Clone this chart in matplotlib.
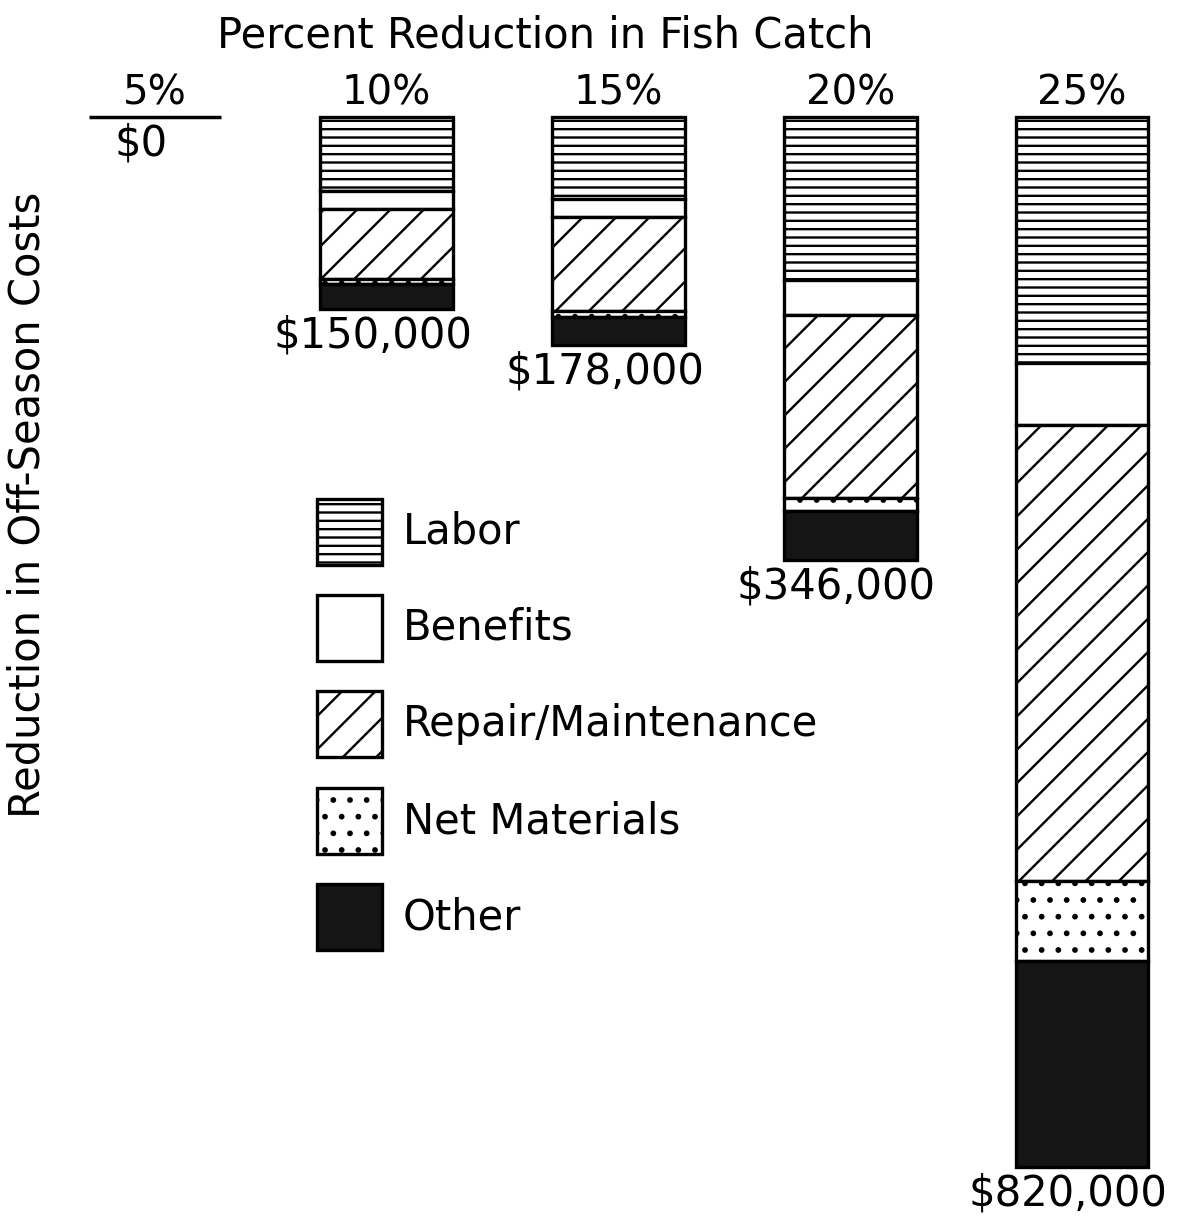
import matplotlib
matplotlib.use("Agg")
import matplotlib.pyplot as plt
from matplotlib.patches import Rectangle

# data (thousands of dollars)
catch_cuts = ["5%", "10%", "15%", "20%", "25%"]
totals = ["$0", "$150,000", "$178,000", "$346,000", "$820,000"]
categories = ["Labor", "Benefits", "Repair/Maintenance", "Net Materials", "Other"]
labor = [0, 57.8, 64.1, 127.6, 192.5]
benefits = [0, 14.1, 14.1, 27.4, 48.3]
repair = [0, 54.7, 73.4, 142.5, 356.2]
net_materials = [0, 3.9, 4.7, 10.2, 62.4]
other = [0, 19.5, 21.7, 38.3, 160.6]

series = [labor, benefits, repair, net_materials, other]
faces = ["white", "white", "white", "white", "#151515"]
hatches = ["--", None, "/", ".", None]

W, H = 1178, 1225
plt.rcParams["font.family"] = ["DejaVu Sans"]
plt.rcParams["hatch.linewidth"] = 1.7
plt.rcParams["hatch.color"] = "black"

fig = plt.figure(figsize=(W / 100, H / 100), dpi=100)
ax = fig.add_axes([0, 0, 1, 1])
ax.axis("off")

# axis ranges so that the bars hang down from the top
ax.set_xlim(-155 / 231.75, (W - 155) / 231.75)
ax.set_ylim((H - 117) * 0.781, -117 * 0.781)

x = list(range(len(catch_cuts)))
width = 0.573
bottom = [0.0] * len(x)
for vals, fc, ht in zip(series, faces, hatches):
    for i in x:
        if vals[i] <= 0:
            continue
        ax.bar(i, vals[i], bottom=bottom[i], width=width, color=fc,
               edgecolor="black", linewidth=2.4, hatch=ht)
    bottom = [b + v for b, v in zip(bottom, vals)]

# zero bar for 5%
ax.hlines(0, -width / 2, width / 2, color="black", linewidth=2.5)

for i in x:
    ax.annotate(catch_cuts[i], (i, 0), xytext=(0, 9), textcoords="offset points",
                ha="center", va="baseline", fontsize=29)
    ax.annotate(totals[i], (i, bottom[i]), xytext=(-10, -19), textcoords="offset points",
                ha="center", va="center", fontsize=30)

# legend boxes
box_y = [532, 628, 724, 821, 917]
for lab, fc, ht, yc in zip(categories, faces, hatches, box_y):
    ax.add_patch(Rectangle((317 / W, 1 - (yc + 33) / H), 65 / W, 66 / H,
                           transform=ax.transAxes, facecolor=fc, edgecolor="black",
                           linewidth=2.4, hatch=ht))
    ax.text(403 / W, 1 - yc / H, lab, transform=ax.transAxes,
            ha="left", va="center", fontsize=30)

fig.text(545 / W, 1 - 35 / H, "Percent Reduction in Fish Catch",
         ha="center", va="center", fontsize=30)
fig.text(28 / W, 1 - 505 / H, "Reduction in Off-Season Costs",
         ha="center", va="center", rotation=90, fontsize=30)

fig.savefig("out.png", dpi=100)
